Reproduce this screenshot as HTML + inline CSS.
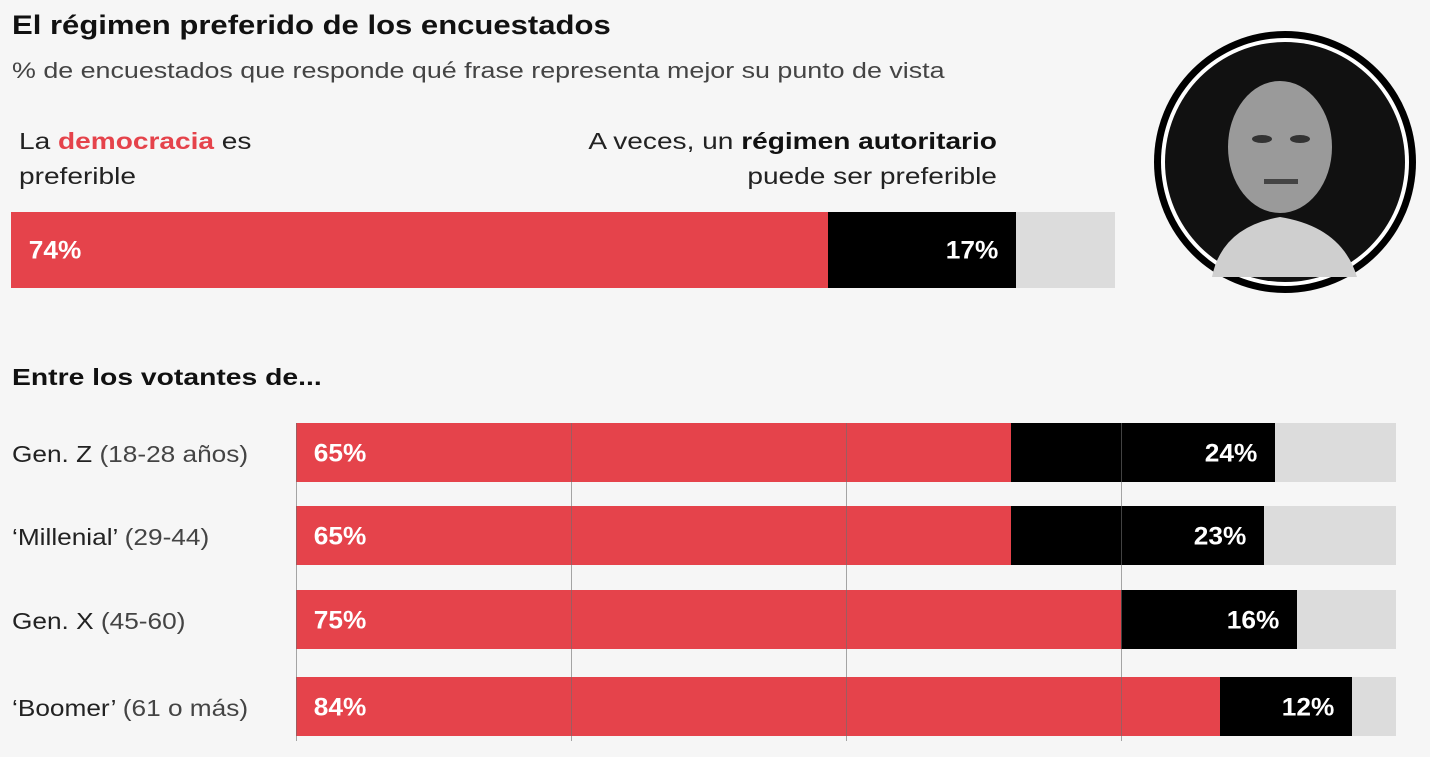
<!DOCTYPE html>
<html><head><meta charset="utf-8">
<style>
body{margin:0;width:1430px;height:757px;background:#f6f6f6;font-family:"Liberation Sans",sans-serif;position:relative;overflow:hidden;color:#222}
.abs{position:absolute;white-space:nowrap}
.t{left:12px;top:10px;font-size:27px;font-weight:bold;color:#111;transform:scaleX(1.15);transform-origin:left}
.s{left:12px;top:58px;font-size:22px;color:#444;transform:scaleX(1.22);transform-origin:left}
.lab{font-size:23px;line-height:35px;color:#222}
.val{position:absolute;font-size:25px;font-weight:bold;color:#fff;top:50%;transform:translateY(-46%) scaleX(1.05)}
</style></head><body>
<div class="abs t">El régimen preferido de los encuestados</div>
<div class="abs s">% de encuestados que responde qué frase representa mejor su punto de vista</div>
<div class="abs lab" style="left:19px;top:124px;transform:scaleX(1.22);transform-origin:left">La <b style="color:#e5434b">democracia</b> es<br>preferible</div>
<div class="abs lab" style="right:433px;top:124px;text-align:right;transform:scaleX(1.22);transform-origin:right">A veces, un <b style="color:#111">régimen autoritario</b><br>puede ser preferible</div>
<div class="abs" style="left:12px;top:364px;font-size:23px;font-weight:bold;color:#111;transform:scaleX(1.23);transform-origin:left">Entre los votantes de...</div>
<svg class="abs" style="left:1152px;top:27px" width="266" height="270">
<circle cx="133" cy="135" r="131" fill="#000"/>
<circle cx="133" cy="135" r="124" fill="#fff"/>
<circle cx="133" cy="135" r="120" fill="#111"/>
<ellipse cx="128" cy="120" rx="52" ry="66" fill="#9a9a9a"/>
<path d="M60 250 Q70 200 128 190 Q190 200 205 250 Z" fill="#cfcfcf"/>
<ellipse cx="110" cy="112" rx="10" ry="4" fill="#333"/>
<ellipse cx="148" cy="112" rx="10" ry="4" fill="#333"/>
<rect x="112" y="152" width="34" height="5" fill="#444"/>
</svg>
<div id="chart"></div>
<script>
const topVals=[74,17];
const cats=["Gen. Z","‘Millenial’","Gen. X","‘Boomer’"];
const catSub=["(18-28 años)","(29-44)","(45-60)","(61 o más)"];
const demo=[65,65,75,84];
const auth=[24,23,16,12];
const grid=[0,25,50,75];
const c=document.getElementById('chart');
function mk(tag,css){const e=document.createElement(tag);e.style.cssText=css;c.appendChild(e);return e;}
function bar(x0,w,y,h,vals,names){
  const sx=v=>w*v/100;
  const g=mk('div',`position:absolute;left:${x0}px;top:${y}px;width:${w}px;height:${h}px;background:#dcdcdc`);
  
  
  const r=mk('div',`position:absolute;left:${x0}px;top:${y}px;width:${sx(vals[0])}px;height:${h}px;background:#e5434b`);
  
  
  const rv=document.createElement('div');rv.className='val';rv.style.left='19px';rv.textContent=vals[0]+'%';r.appendChild(rv);
  const b=mk('div',`position:absolute;left:${x0+sx(vals[0])}px;top:${y}px;width:${sx(vals[1])}px;height:${h}px;background:#000`);
  
  
  const bv=document.createElement('div');bv.className='val';bv.style.right='19px';bv.textContent=vals[1]+'%';b.appendChild(bv);
}
bar(11,1104,212,76,topVals,'total-bar');
const X0=296,W=1100;
grid.forEach(g=>{
  const l=mk('div',`position:absolute;left:${X0+W*g/100}px;top:423px;width:1px;height:318px;background:rgba(110,110,110,0.6);z-index:2`);
  
  
});
const ys=[423,506,590,677];
cats.forEach((k,i)=>{
  bar(X0,W,ys[i],59,[demo[i],auth[i]],'bar-'+i);
  const t=mk('div',`position:absolute;left:12px;top:${ys[i]+18}px;font-size:23px;color:#222;white-space:nowrap;transform:scaleX(1.14);transform-origin:left`);
  t.innerHTML=k+' <span style="color:#444">'+catSub[i]+'</span>';
  
  
});
</script>
</body></html>
